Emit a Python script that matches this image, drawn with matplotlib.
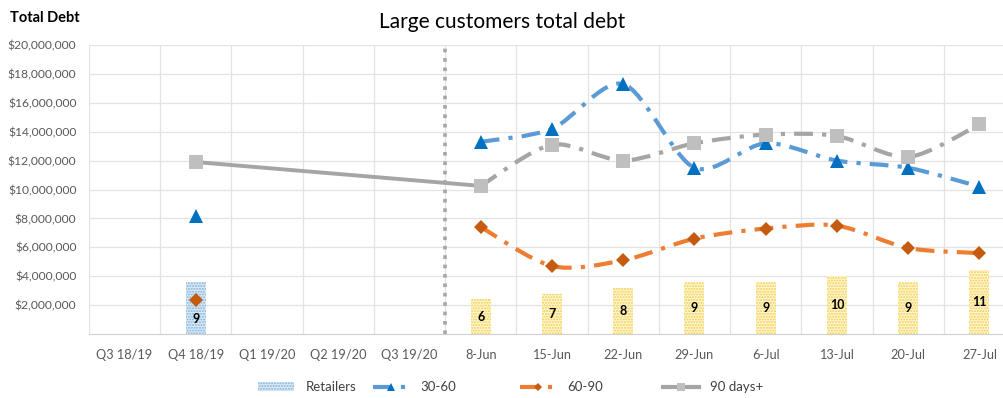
import numpy as np
import matplotlib
matplotlib.use("Agg")
import matplotlib.pyplot as plt
from matplotlib.path import Path
from matplotlib.patches import PathPatch, Patch
from matplotlib.lines import Line2D
from matplotlib.ticker import FuncFormatter

plt.rcParams['font.family'] = ['Lato', 'DejaVu Sans']

# ---- data ----
categories = ['Q3 18/19', 'Q4 18/19', 'Q1 19/20', 'Q2 19/20', 'Q3 19/20',
              '8-Jun', '15-Jun', '22-Jun', '29-Jun', '6-Jul', '13-Jul', '20-Jul', '27-Jul']
retailers = [np.nan, 9, np.nan, np.nan, np.nan, 6, 7, 8, 9, 9, 10, 9, 11]
d30_60 = [np.nan, 8.2e6, np.nan, np.nan, np.nan,
          13.3e6, 14.2e6, 17.3e6, 11.5e6, 13.2e6, 12.0e6, 11.5e6, 10.2e6]
d60_90 = [np.nan, 2.35e6, np.nan, np.nan, np.nan,
          7.4e6, 4.7e6, 5.1e6, 6.6e6, 7.3e6, 7.5e6, 5.95e6, 5.6e6]
d90_plus = [np.nan, 11.9e6, np.nan, np.nan, np.nan,
            10.25e6, 13.1e6, 12.0e6, 13.2e6, 13.8e6, 13.7e6, 12.25e6, 14.5e6]
legend_labels = ['Retailers', '30-60', '60-90', '90 days+']

x = np.arange(len(categories))
n_quarters = 5
weekly = slice(n_quarters, None)   # weekly points, drawn as smoothed lines


def smooth_path(xs, ys, k=7):
    # Excel-like smoothed line: Catmull-Rom style segments as cubic Beziers
    pts = np.column_stack([xs, ys])
    n = len(pts)
    verts, codes = [pts[0]], [Path.MOVETO]
    for i in range(n - 1):
        p0, p1 = pts[max(i - 1, 0)], pts[i]
        p2, p3 = pts[i + 1], pts[min(i + 2, n - 1)]
        verts += [p1 + (p2 - p0) / k, p2 - (p3 - p1) / k, p2]
        codes += [Path.CURVE4] * 3
    return Path(verts, codes)


fig = plt.figure(figsize=(10.04, 3.98), dpi=100)
rect = [89 / 1004, 64 / 398, 926 / 1004, 289 / 398]
ax = fig.add_axes(rect)       # grid + ticks (bottom layer)
axb = ax.twinx()              # bars, hidden secondary scale
axl = ax.twinx()              # lines, same scale as ax
ax.set_zorder(0)
axb.set_zorder(1)
axl.set_zorder(2)
axb.patch.set_visible(False)
axl.patch.set_visible(False)

# bars (number of retailers)
ret = np.array(retailers)
q_bars = axb.bar(x[:n_quarters], ret[:n_quarters], width=0.28, color='#DDEBF7',
                 edgecolor='#7FB2D9', linewidth=0, hatch='......')
w_bars = axb.bar(x[weekly], ret[weekly], width=0.28, color='#FFF6D5',
                 edgecolor='#F2CF4A', linewidth=0, hatch='......')
axb.bar_label(q_bars, labels=['' if np.isnan(v) else f'{int(v)}' for v in ret[:n_quarters]],
              label_type='edge', padding=-31, fontsize=9, fontweight='bold', color='black')
axb.bar_label(w_bars, labels=[f'{int(v)}' for v in ret[weekly]],
              label_type='center', fontsize=9, fontweight='bold', color='black')
axb.set_ylim(0, 50)

# lines
series = [
    (d30_60, '#5B9BD5', '#0070C0', '^', 10),
    (d60_90, '#ED7D31', '#C55A11', 'D', 7.5),
    (d90_plus, '#A5A5A5', '#BFBFBF', 's', 9.5),
]
dash = (0, (4.5, 2.2, 1, 2.2))
for vals, lc, mc, mk, ms in series:
    vals = np.array(vals)
    axl.add_patch(PathPatch(smooth_path(x[weekly], vals[weekly]), fill=False,
                            edgecolor=lc, linewidth=3, linestyle=dash,
                            capstyle='butt', zorder=3))
    axl.plot(x, vals, linestyle='none', marker=mk, markersize=ms,
             color=mc, markeredgewidth=0, zorder=4)

# solid grey link from Q4 18/19 to 8-Jun
axl.plot(x[[1, 5]], np.array(d90_plus)[[1, 5]], color='#A5A5A5', linewidth=2.8,
         solid_capstyle='butt', zorder=2)

# divider between quarterly and weekly data
axl.axvline(n_quarters - 0.5, color='#A6A6A6', linewidth=2.6,
            linestyle=(0, (1, 1.6)), zorder=2)

# axes styling
ax.set_xlim(-0.5, 12.5)
ax.set_ylim(0, 20e6)
axl.set_ylim(ax.get_ylim())
ax.set_yticks(np.arange(2e6, 20.1e6, 2e6))
ax.yaxis.set_major_formatter(FuncFormatter(lambda v, p: f'${v:,.0f}'))
ax.set_xticks(x)
ax.set_xticklabels(categories)
ax.tick_params(axis='both', length=0, labelcolor='#595959')
ax.tick_params(axis='y', pad=9, labelsize=8.7)
ax.tick_params(axis='x', pad=11, labelsize=9.2)
ax.grid(axis='y', color='#E3E3E3', linewidth=0.9)
for b in np.arange(-0.5, 12.6, 1):
    ax.axvline(b, color='#E3E3E3', linewidth=0.9, zorder=0)
for a in (ax, axb, axl):
    for s in ['top', 'right', 'left']:
        a.spines[s].set_visible(False)
axb.spines['bottom'].set_visible(False)
axl.spines['bottom'].set_visible(False)
ax.spines['bottom'].set_color('#D0D0D0')
for a in (axb, axl):
    a.set_yticks([])

fig.text(0.01, 0.955, 'Total Debt', fontsize=10.5, fontweight='bold', color='black',
         va='center')
fig.text(0.5, 0.945, 'Large customers total debt', fontsize=15, color='black',
         ha='center', va='center')

# legend entries, placed one by one like the Excel legend
handles = [
    Patch(facecolor='#DDEBF7', edgecolor='#7FB2D9', linewidth=0, hatch='......'),
    Line2D([], [], color='#5B9BD5', linewidth=3, linestyle=dash, marker='^',
           markerfacecolor='#0070C0', markeredgewidth=0, markersize=6),
    Line2D([], [], color='#ED7D31', linewidth=3, linestyle=dash, marker='D',
           markerfacecolor='#C55A11', markeredgewidth=0, markersize=4.5),
    Line2D([], [], color='#A5A5A5', linewidth=3, marker='s',
           markerfacecolor='#BFBFBF', markeredgewidth=0, markersize=6),
]
legend_x = [258 / 1004, 373 / 1004, 520 / 1004, 663 / 1004]
for h, lab, lx in zip(handles, legend_labels, legend_x):
    fig.legend([h], [lab], loc='center left', bbox_to_anchor=(lx, 0.027),
               frameon=False, fontsize=9.5, labelcolor='#404040',
               borderpad=0, borderaxespad=0, handlelength=2.7, handletextpad=0.9)

fig.savefig('out.png', dpi=100)
